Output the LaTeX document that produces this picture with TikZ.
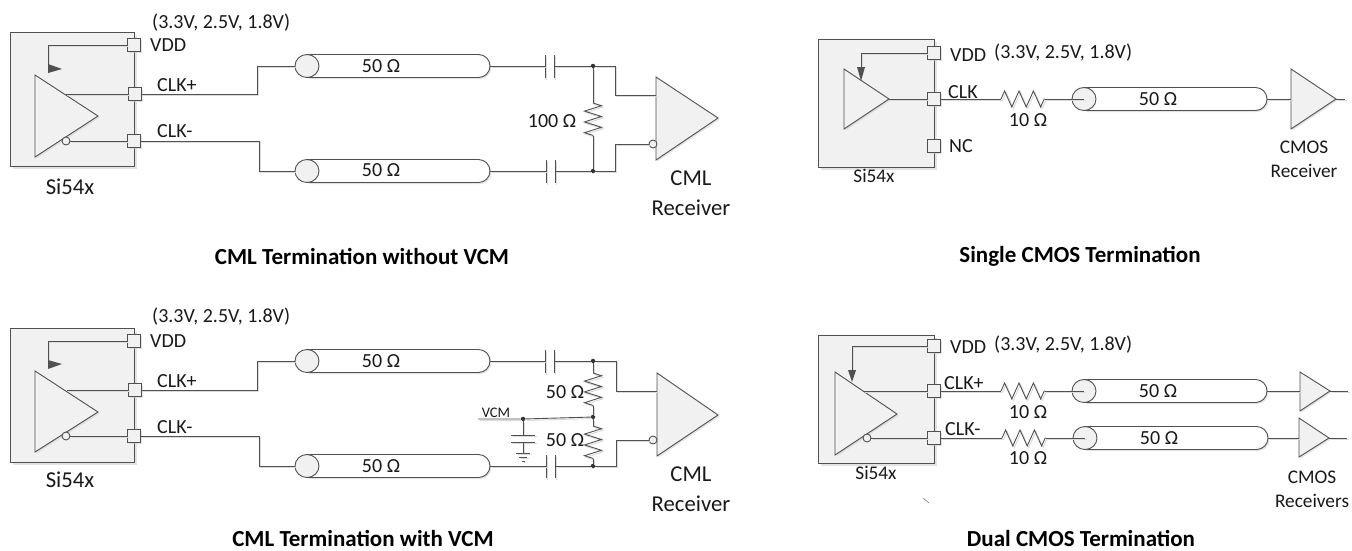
\documentclass[tikz,border=0pt]{standalone}
\usepackage{fontspec}
\setmainfont{Carlito}
\usetikzlibrary{positioning}
\usetikzlibrary{shapes.misc,shapes.geometric}
\usetikzlibrary{shadows}
\usetikzlibrary{decorations.pathmorphing}
\definecolor{linegray}{HTML}{505050}
\definecolor{bodygray}{HTML}{F1F1F1}
\tikzset{
softshadow/.style={drop shadow={shadow xshift=1.5pt,shadow yshift=-1.5pt,fill=black!18,opacity=0.6}},
wire/.style={draw=linegray,line width=0.9pt,preaction={draw=black!14,line width=1pt,transform canvas={shift={(1.5pt,-1.5pt)}}}},
chip/.style={draw=linegray,line width=0.9pt,fill=bodygray,drop shadow={shadow xshift=2.5pt,shadow yshift=-2.5pt,fill=black!18,opacity=0.6}},
amp/.style={draw=linegray,line width=0.9pt,fill=bodygray,softshadow},
pad/.style={draw=linegray,line width=0.9pt,fill=bodygray,minimum size=13pt,inner sep=0pt,softshadow},
bubble/.style={circle,draw=linegray,line width=0.9pt,fill=bodygray,minimum size=8pt,inner sep=0pt},
dot/.style={circle,fill=black!80,minimum size=4.5pt,inner sep=0pt},
cable/.style={rounded rectangle,rounded rectangle left arc=none,draw=linegray,line width=0.9pt,fill=white,minimum height=23pt,inner sep=0pt,softshadow},
cableend/.style={ellipse,draw=linegray,line width=0.9pt,fill=bodygray,minimum width=24pt,minimum height=23pt,inner sep=0pt},
lbl/.style={font=\fontsize{20}{22}\selectfont,inner sep=0pt,text=black!90},
lblbig/.style={font=\fontsize{22.7}{24}\selectfont,inner sep=0pt,text=black!90},
lblsmall/.style={font=\fontsize{19.3}{22}\selectfont,inner sep=0pt,text=black!90},
heading/.style={font=\fontsize{23}{25}\selectfont\bfseries,inner sep=0pt},
vzig/.style={decorate,decoration={zigzag,amplitude=8.5pt,segment length=10.8pt}},
hzig/.style={decorate,decoration={zigzag,amplitude=8pt,segment length=14.4pt}},
}
\begin{document}
\begin{tikzpicture}[x=1pt,y=-1pt]
\useasboundingbox (0,0) rectangle (1352,550);
% chips
\path[chip] (10,32) rectangle (134,166);
\path[chip] (818,39) rectangle (934,167);
\path[chip] (10,328) rectangle (134,462);
\path[chip] (818,335) rectangle (934,463);
% amplifiers
\draw[amp] (35,75) -- (35,157) -- (98,116) -- cycle;
\draw[amp] (656,77) -- (656,160) -- (718,118) -- cycle;
\draw[amp] (844,69) -- (844,129) -- (889,99) coordinate (ampBtip) -- cycle;
\draw[amp] (1291,69) -- (1291,129) -- (1336,99) coordinate (recBtip) -- cycle;
\draw[amp] (35,371) -- (35,452) -- (98,412) -- cycle;
\draw[amp] (657,373) -- (657,456) -- (718,415) -- cycle;
\draw[amp] (835,372) -- (835,455) -- (897,414) -- cycle;
\draw[amp] (1300,372) -- (1300,411) -- (1330,391) coordinate (recDtipa) -- cycle;
\draw[amp] (1299,418) -- (1299,457) -- (1329,438) coordinate (recDtipb) -- cycle;
% pads
\foreach \name/\x/\y in {vddA/134/45,clkpA/135/94,clkmA/134/141,vddB/934/53,clkB/934/99,ncB/934/146,vddC/134/341,clkpC/135/390,clkmC/134/436,vddD/934/346,clkpD/934/391,clkmD/934/438} {
\node[pad] (\name) at (\x,\y) {};
}
% cables
\foreach \name/\x/\xb/\y in {cabA/295/490/66,cabAb/295/490/171,cabB/1072/1267/99,cabC/295/490/361,cabCb/295/490/466,cabD/1072/1267/391,cabDb/1073/1268/438} {
\node[cable,minimum width=\xb pt-\x pt-12pt] (\name) at ({(\x+12+\xb)/2},\y) {};
\node[cableend] (\name e) at (\x+12,\y) {};
}
\foreach \name/\x/\y in {lbA/381/66,lbAb/381/170,lbB/1158/99,lbC/381/361,lbCb/381/466,lbD/1158/391,lbDb/1159/438} {
\node[lbl] (\name) at (\x,\y) {50 Ω};
}
% capacitors
\foreach \name/\x/\y in {capA/545/66,capAb/546/171,capC/545/361,capCb/546/466} {
\coordinate (\name l) at (\x,\y);
\coordinate (\name r) at (\x+9,\y);
\draw[wire] (\x,\y-11) -- (\x,\y+12);
\draw[wire] (\x+9,\y-11) -- (\x+9,\y+12);
}
% dots
\foreach \name/\x/\y in {nA/593/66,nAb/593/171,nC/593/361,nCm/593/417,nCb/593/466,nV/523/419} {
\node[dot] (\name) at (\x,\y) {};
}
% bubbles
\foreach \name/\x/\y in {bubA/66/141,recbA/653/144,bubC/66/436,recbC/653/440,bubD/867/438} {
\node[bubble] (\name) at (\x,\y) {};
}
% panel A wires
\draw[wire] (vddA.west) -- (48,45) -- (48,72);
\fill[linegray] (48,64) -- (62,69) -- (48,73) -- cycle;
\draw[wire] (65,94) -- (clkpA.west);
\draw[wire] (bubA.east) -- (clkmA.west);
\draw[wire] (clkpA.east) -- (257,94) -- (257,66) -- (cabAe.west);
\draw[wire] (clkmA.east) -- (259,141) -- (259,171) -- (cabAbe.west);
\draw[wire] (cabA.east) -- (capAl);
\draw[wire] (cabAb.east) -- (capAbl);
\draw[wire] (capAr) -- (nA) -- (615,66) -- (615,95) -- (656,95);
\draw[wire] (capAbr) -- (nAb) -- (615,171) -- (615,144) -- (recbA.west);
\draw[wire] (nA) -- (593,103);
\draw[wire,vzig] (593,103) -- (593,136);
\draw[wire] (593,136) -- (nAb);
% panel B wires
\draw[wire] (vddB.west) -- (861,53) -- (861,70);
\fill[linegray] (857,67) -- (865,67) -- (861,81) -- cycle;
\draw[wire] (ampBtip) -- (clkB.west);
\draw[wire] (clkB.east) -- (1001,99);
\draw[wire,hzig] (1001,99) -- (1045,99);
\draw[wire] (1045,99) -- (cabBe.center);
\draw[wire] (cabB.east) -- (1291,99);
\draw[wire] (recBtip) -- (1345,99);
% panel C wires
\draw[wire] (vddC.west) -- (48,341) -- (48,366);
\fill[linegray] (48,360) -- (62,364) -- (48,369) -- cycle;
\draw[wire] (67,390) -- (clkpC.west);
\draw[wire] (bubC.east) -- (clkmC.west);
\draw[wire] (clkpC.east) -- (257,390) -- (257,361) -- (cabCe.west);
\draw[wire] (clkmC.east) -- (259,436) -- (259,466) -- (cabCbe.west);
\draw[wire] (cabC.east) -- (capCl);
\draw[wire] (cabCb.east) -- (capCbl);
\draw[wire] (capCr) -- (nC) -- (616,361) -- (616,391) -- (657,391);
\draw[wire] (capCbr) -- (nCb) -- (616,466) -- (616,440) -- (recbC.west);
\draw[wire] (nC) -- (593,373);
\draw[wire,vzig] (593,373) -- (593,406);
\draw[wire] (593,406) -- (nCm) -- (593,426);
\draw[wire,vzig] (593,426) -- (593,459);
\draw[wire] (593,459) -- (nCb);
\draw[wire] (478,419) -- (nV) -- (nCm);
\draw[wire] (nV) -- (523,435);
\draw[wire] (511,435) -- (535,435);
\draw[wire] (511,442) -- (535,442);
\draw[wire] (523,442) -- (523,453);
\draw[wire] (516,453) -- (530,453);
\draw[wire] (519,457) -- (527,457);
\draw[wire] (522,461) -- (525,461);
% panel D wires
\draw[wire] (vddD.west) -- (852,346) -- (852,372);
\fill[linegray] (848,370) -- (856,370) -- (852,382) -- cycle;
\draw[wire] (863,391) -- (clkpD.west);
\draw[wire] (bubD.east) -- (clkmD.west);
\draw[wire] (clkpD.east) -- (1001,391);
\draw[wire,hzig] (1001,391) -- (1045,391);
\draw[wire] (1045,391) -- (cabDe.center);
\draw[wire] (clkmD.east) -- (1002,438);
\draw[wire,hzig] (1002,438) -- (1046,438);
\draw[wire] (1046,438) -- (cabDbe.center);
\draw[wire] (cabD.east) -- (1300,391);
\draw[wire] (cabDb.east) -- (1299,438);
\draw[wire] (recDtipa) -- (1348,391);
\draw[wire] (recDtipb) -- (1347,438);
\draw[black!60,line width=0.5pt] (923,498) -- (929,503);
% labels
\node[lbl,anchor=west] (vA) at (152,23) {(3.3V, 2.5V, 1.8V)};
\node[lbl,anchor=west] (vddtA) at (150,45) {VDD};
\node[lbl,anchor=west] (clkptA) at (157,85) {CLK+};
\node[lbl,anchor=west] (clkmtA) at (157,131) {CLK-};
\node[lblbig] (siA) at (70,187) {Si54x};
\node[lbl] (ohmA) at (552,121) {100 Ω};
\node[lblbig] (cmlA) at (691,178) {CML};
\node[lblbig] (rxA) at (691,208) {Receiver};
\node[heading] (headA) at (362,256) {CML Termination without VCM};
\node[lbl,anchor=west] (vddtB) at (950,55) {VDD};
\node[lbl,anchor=west] (vB) at (994,53) {(3.3V, 2.5V, 1.8V)};
\node[lbl,anchor=west] (clktB) at (948,92) {CLK};
\node[lbl,anchor=west] (nctB) at (949,146) {NC};
\node[lblsmall] (siB) at (874,176) {Si54x};
\node[lbl] (ohmB) at (1028,120) {10 Ω};
\node[lblsmall] (cmB) at (1304,147) {CMOS};
\node[lblsmall] (rxB) at (1304,171) {Receiver};
\node[heading] (headB) at (1080,256) {Single CMOS Termination};
\node[lbl,anchor=west] (vC) at (152,317) {(3.3V, 2.5V, 1.8V)};
\node[lbl,anchor=west] (vddtC) at (150,341) {VDD};
\node[lbl,anchor=west] (clkptC) at (157,381) {CLK+};
\node[lbl,anchor=west] (clkmtC) at (157,427) {CLK-};
\node[lblbig] (siC) at (70,480) {Si54x};
\node[lbl] (ohmC) at (565,392) {50 Ω};
\node[lbl] (ohmCb) at (565,440) {50 Ω};
\node[lbl,font=\fontsize{14.6}{16}\selectfont] (vcm) at (496,413) {VCM};
\node[lblbig] (cmlC) at (691,474) {CML};
\node[lblbig] (rxC) at (691,504) {Receiver};
\node[heading] (headC) at (363,538) {CML Termination with VCM};
\node[lbl,anchor=west] (vddtD) at (950,347) {VDD};
\node[lbl,anchor=west] (vD) at (994,345) {(3.3V, 2.5V, 1.8V)};
\node[lbl,anchor=west] (clkptD) at (944,383) {CLK+};
\node[lbl,anchor=west] (clkmtD) at (945,429) {CLK-};
\node[lblsmall] (siD) at (876,473) {Si54x};
\node[lbl] (ohmD) at (1028,412) {10 Ω};
\node[lbl] (ohmDb) at (1028,458) {10 Ω};
\node[lblsmall] (cmD) at (1312,477) {CMOS};
\node[lblsmall] (rxD) at (1312,501) {Receivers};
\node[heading] (headD) at (1081,538) {Dual CMOS Termination};
\end{tikzpicture}
\end{document}
